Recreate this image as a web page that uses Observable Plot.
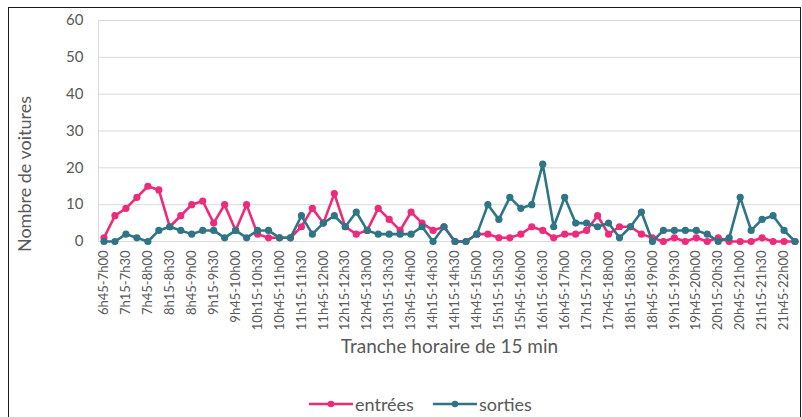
<!DOCTYPE html>
<html>
<head>
<meta charset="utf-8">
<script src="https://cdn.jsdelivr.net/npm/d3@7"></script>
<script src="https://cdn.jsdelivr.net/npm/@observablehq/plot@0.6"></script>
<style>
  body { margin: 0; background: #fff; font-family: Lato, "Open Sans", sans-serif; }
  #chart { position: relative; width: 802px; height: 417px; overflow: hidden; background: #fff; }
  #frame { position: absolute; left: 8px; top: 7px; width: 793px; height: 430px; border: 1px solid #1a1a1a; box-sizing: border-box; pointer-events: none; }
  #legend { position: absolute; top: 393px; left: 309px; display: flex; align-items: center; gap: 19px; font-size: 18px; color: #595959; }
  #legend span { display: flex; align-items: center; gap: 2px; }
</style>
</head>
<body>
<div id="chart">
  <div id="plot"></div>
  <div id="legend"></div>
  <div id="frame"></div>
</div>
<script>
// Tranches de 15 minutes (la tranche 14h15-14h45 figure deux fois : fin du relevé du matin, début de celui de l'après-midi)
const slots = [
  "6h45-7h00","7h00-7h15","7h15-7h30","7h30-7h45","7h45-8h00","8h00-8h15","8h15-8h30","8h30-8h45",
  "8h45-9h00","9h00-9h15","9h15-9h30","9h30-9h45","9h45-10h00","10h00-10h15","10h15-10h30","10h30-10h45",
  "10h45-11h00","11h00-11h15","11h15-11h30","11h30-11h45","11h45-12h00","12h00-12h15","12h15-12h30","12h30-12h45",
  "12h45-13h00","13h00-13h15","13h15-13h30","13h30-13h45","13h45-14h00","14h00-14h15","14h15-14h30","14h30-14h45",
  "14h15-14h30","14h30-14h45","14h45-15h00","15h00-15h15","15h15-15h30","15h30-15h45","15h45-16h00","16h00-16h15",
  "16h15-16h30","16h30-16h45","16h45-17h00","17h00-17h15","17h15-17h30","17h30-17h45","17h45-18h00","18h00-18h15",
  "18h15-18h30","18h30-18h45","18h45-19h00","19h00-19h15","19h15-19h30","19h30-19h45","19h45-20h00","20h00-20h15",
  "20h15-20h30","20h30-20h45","20h45-21h00","21h00-21h15","21h15-21h30","21h30-21h45","21h45-22h00","22h00-22h15"
];

// Nombre de voitures entrées par tranche
const entrees = [
  1, 7, 9, 12, 15, 14, 4, 7, 10, 11, 5, 10, 3, 10, 2, 1,
  1, 1, 4, 9, 5, 13, 4, 2, 3, 9, 6, 3, 8, 5, 3, 4,
  0, 0, 2, 2, 1, 1, 2, 4, 3, 1, 2, 2, 3, 7, 2, 4,
  4, 2, 1, 0, 1, 0, 1, 0, 1, 0, 0, 0, 1, 0, 0, 0
];

// Nombre de voitures sorties par tranche
const sorties = [
  0, 0, 2, 1, 0, 3, 4, 3, 2, 3, 3, 1, 3, 1, 3, 3,
  1, 1, 7, 2, 5, 7, 4, 8, 3, 2, 2, 2, 2, 4, 0, 4,
  0, 0, 2, 10, 6, 12, 9, 10, 21, 4, 12, 5, 5, 4, 5, 1,
  4, 8, 0, 3, 3, 3, 3, 2, 0, 1, 12, 3, 6, 7, 3, 0
];

const yTicks = [0, 10, 20, 30, 40, 50, 60];
const seriesNames = ["entrées", "sorties"];
const seriesColors = ["#ee2a7b", "#2e7585"];
const xTitle = "Tranche horaire de 15 min";
const yTitle = "Nombre de voitures";

const idx = d3.range(slots.length);
const labelled = idx.filter(i => i % 2 === 0); // une étiquette sur deux
const seriesValues = [entrees, sorties];
const rows = seriesNames.flatMap((name, s) =>
  idx.map(i => ({i, serie: name, v: seriesValues[s][i]}))
);

const textColor = "#595959";

const chart = Plot.plot({
  width: 802,
  height: 385,
  marginLeft: 98,
  marginRight: 2,
  marginTop: 20,
  marginBottom: 144,
  style: {fontFamily: "Lato, 'Open Sans', sans-serif", background: "transparent"},
  x: {type: "point", domain: idx, padding: 0.5},
  y: {domain: [0, 60]},
  color: {domain: seriesNames, range: seriesColors},
  marks: [
    Plot.gridY(yTicks, {stroke: "#d9d9d9", strokeOpacity: 1, strokeWidth: 1}),
    Plot.frame({anchor: "left", stroke: "#d9d9d9"}),
    Plot.axisY(yTicks, {
      tickSize: 0, tickPadding: 15, fontSize: 15, fill: textColor, label: null
    }),
    Plot.axisX(labelled, {
      tickFormat: i => slots[i], tickRotate: -90, tickSize: 0, tickPadding: 9,
      fontSize: 13, fill: textColor, label: null
    }),
    Plot.text([xTitle], {frameAnchor: "bottom", dy: 111, fontSize: 19, fill: textColor}),
    Plot.text([yTitle], {frameAnchor: "left", textAnchor: "middle", dx: -73, dy: 43, rotate: -90, fontSize: 18, fill: textColor}),
    Plot.lineY(rows.filter(d => d.serie === seriesNames[0]), {x: "i", y: "v", stroke: "serie", strokeWidth: 2.6}),
    Plot.dot(rows.filter(d => d.serie === seriesNames[0]), {x: "i", y: "v", fill: "serie", r: 3.6}),
    Plot.lineY(rows.filter(d => d.serie === seriesNames[1]), {x: "i", y: "v", stroke: "serie", strokeWidth: 2.6}),
    Plot.dot(rows.filter(d => d.serie === seriesNames[1]), {x: "i", y: "v", fill: "serie", r: 3.6})
  ]
});
document.getElementById("plot").appendChild(chart);

// Légende : trait + marqueur par série
const legend = d3.select("#legend");
seriesNames.forEach((name, s) => {
  const item = legend.append("span");
  const sw = item.append("svg").attr("width", 44).attr("height", 10);
  sw.append("line").attr("x1", 0).attr("x2", 44).attr("y1", 5).attr("y2", 5)
    .attr("stroke", seriesColors[s]).attr("stroke-width", 2.6);
  sw.append("circle").attr("cx", 22).attr("cy", 5).attr("r", 3.3).attr("fill", seriesColors[s]);
  item.append("text").text(name);
});
</script>
</body>
</html>
